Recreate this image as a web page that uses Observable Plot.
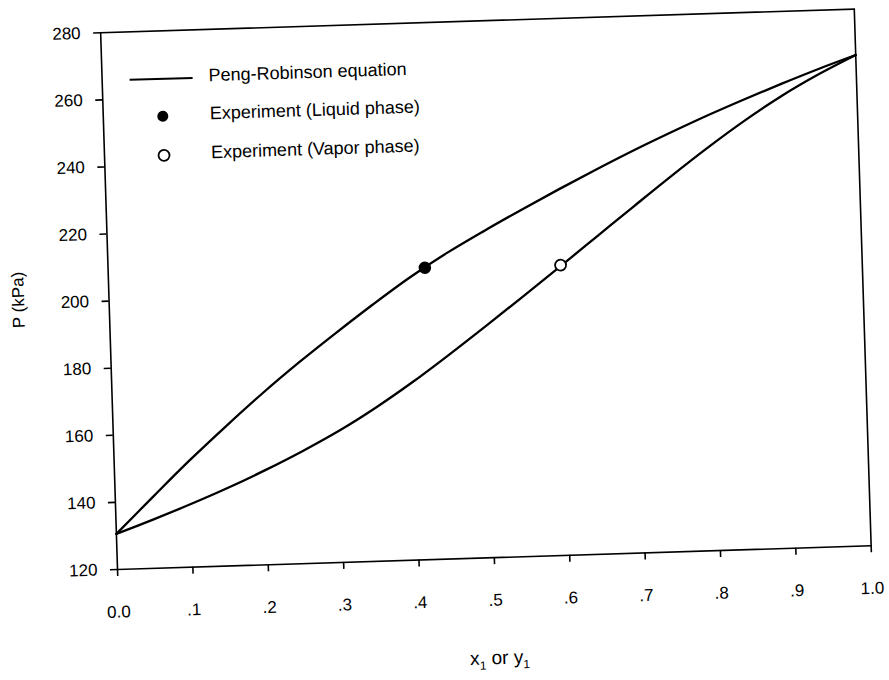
<!DOCTYPE html>
<html>
<head>
<meta charset="utf-8">
<script src="https://cdn.jsdelivr.net/npm/d3@7"></script>
<script src="https://cdn.jsdelivr.net/npm/@observablehq/plot@0.6"></script>
<style>
  html, body { margin: 0; padding: 0; background: #fff; overflow: hidden; }
  #chart {
    position: absolute; left: 0; top: 0; width: 889px; height: 700px;
    transform-origin: 117px 569px;
    transform: rotate(-1.8deg);
  }
</style>
</head>
<body>
<div id="chart"></div>
<script>
// Peng-Robinson bubble-point curve: P (kPa) against liquid mole fraction x1
const liquidX = [0, 0.05, 0.1, 0.15, 0.2, 0.25, 0.3, 0.35, 0.4, 0.45, 0.5, 0.55, 0.6, 0.65, 0.7, 0.75, 0.8, 0.85, 0.9, 0.95, 1.0];
const liquidP = [130.6, 141.3, 151.8, 161.7, 171.2, 180.1, 188.5, 196.6, 204.3, 211.2, 217.4, 223.3, 229.0, 234.5, 239.8, 244.8, 249.6, 254.1, 258.4, 262.5, 266.3];

// Peng-Robinson dew-point curve: P (kPa) against vapour mole fraction y1
const vaporY = [0, 0.05, 0.1, 0.15, 0.2, 0.25, 0.3, 0.35, 0.4, 0.45, 0.5, 0.55, 0.6, 0.65, 0.7, 0.75, 0.8, 0.85, 0.9, 0.95, 1.0];
const vaporP = [130.6, 134.6, 138.8, 143.3, 148.2, 153.5, 159.3, 165.9, 173.2, 181.1, 189.3, 197.7, 206.2, 214.8, 223.4, 231.9, 240.1, 247.8, 254.8, 260.9, 266.3];

// Experimental points
const expLiquidX = [0.42];
const expLiquidP = [207];
const expVaporY = [0.60];
const expVaporP = [206.5];

// Axis ticks
const xTicks = [0, 0.1, 0.2, 0.3, 0.4, 0.5, 0.6, 0.7, 0.8, 0.9, 1.0];
const xTickLabels = ["0.0", ".1", ".2", ".3", ".4", ".5", ".6", ".7", ".8", ".9", "1.0"];
const yTicks = [120, 140, 160, 180, 200, 220, 240, 260, 280];

const legendLabels = ["Peng-Robinson equation", "Experiment (Liquid phase)", "Experiment (Vapor phase)"];
const xLabel = ["x", "1", " or y", "1"];
const yLabel = "P (kPa)";

const font = "'Liberation Sans', Arial, Helvetica, sans-serif";

const bubble = liquidX.map((x, i) => ({x, p: liquidP[i]}));
const dew = vaporY.map((x, i) => ({x, p: vaporP[i]}));
const liquidPts = expLiquidX.map((x, i) => ({x, p: expLiquidP[i]}));
const vaporPts = expVaporY.map((x, i) => ({x, p: expVaporP[i]}));

const W = 889, H = 700;
const mL = 117, mT = 32, mR = 18, mB = 131;

const chart = Plot.plot({
  width: W,
  height: H,
  marginLeft: mL,
  marginTop: mT,
  marginRight: mR,
  marginBottom: mB,
  style: {fontFamily: font, fontSize: "17px", color: "black", background: "white", overflow: "visible"},
  x: {domain: [0, 1]},
  y: {domain: [120, 280]},
  marks: [
    Plot.frame({stroke: "black", strokeWidth: 1.6}),
    Plot.axisX({ticks: xTicks, tickFormat: d => xTickLabels[xTicks.indexOf(d)], tickSize: 7, tickPadding: 29, strokeWidth: 1.6, label: null}),
    Plot.axisY({ticks: yTicks, tickSize: 7, tickPadding: 13, strokeWidth: 1.6, label: null}),
    Plot.line(bubble, {x: "x", y: "p", curve: "catmull-rom", stroke: "black", strokeWidth: 2.3}),
    Plot.line(dew, {x: "x", y: "p", curve: "catmull-rom", stroke: "black", strokeWidth: 2.3}),
    Plot.dot(liquidPts, {x: "x", y: "p", r: 5.5, fill: "black", stroke: "black"}),
    Plot.dot(vaporPts, {x: "x", y: "p", r: 5.5, fill: "white", stroke: "black", strokeWidth: 1.8})
  ]
});

const svg = d3.select(chart);

// Legend in the upper-left corner of the frame
const lg = svg.append("g").attr("transform", `translate(${mL},${mT})`)
  .attr("font-family", font).attr("font-size", 18).attr("fill", "black")
  .attr("text-anchor", "start");
lg.append("line").attr("x1", 28).attr("x2", 91).attr("y1", 48.5).attr("y2", 48.5)
  .attr("stroke", "black").attr("stroke-width", 2);
lg.append("circle").attr("cx", 60).attr("cy", 86).attr("r", 5.5).attr("fill", "black");
lg.append("circle").attr("cx", 60).attr("cy", 125).attr("r", 5.5).attr("fill", "white")
  .attr("stroke", "black").attr("stroke-width", 1.8);
[46, 84, 123].forEach((y, i) => {
  lg.append("text").attr("x", 107).attr("y", y).attr("dy", "0.35em")
    .attr("text-anchor", "start").text(legendLabels[i]);
});

// Axis titles
svg.append("text")
  .attr("transform", "translate(26.5,297) rotate(-90)")
  .attr("text-anchor", "middle").attr("dy", "0.35em")
  .attr("font-family", font).attr("font-size", 17).attr("fill", "black")
  .text(yLabel);

const xl = svg.append("text")
  .attr("x", 497).attr("y", 676).attr("text-anchor", "middle")
  .attr("font-family", font).attr("font-size", 19).attr("fill", "black");
xl.append("tspan").text(xLabel[0]);
xl.append("tspan").attr("dy", 5).attr("font-size", 12).text(xLabel[1]);
xl.append("tspan").attr("dy", -5).text(xLabel[2]);
xl.append("tspan").attr("dy", 5).attr("font-size", 12).text(xLabel[3]);

document.getElementById("chart").append(chart);
</script>
</body>
</html>
